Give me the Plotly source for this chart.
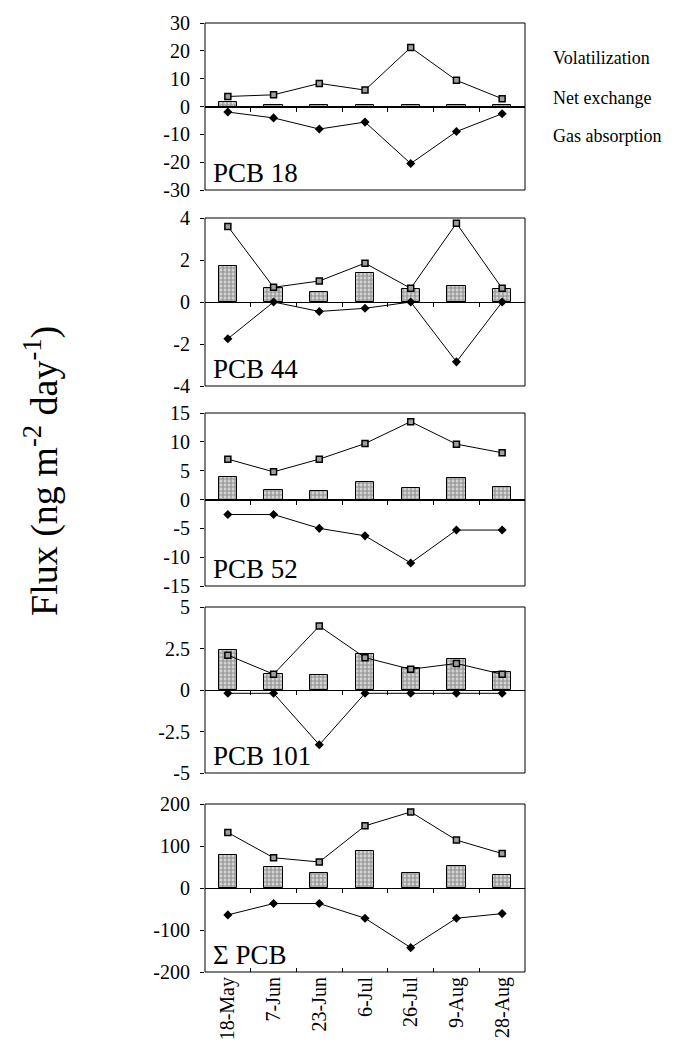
import plotly.graph_objects as go

dates = ["18-May", "7-Jun", "23-Jun", "6-Jul", "26-Jul", "9-Aug", "28-Aug"]

pcb18_vol = [3.6, 4.2, 8.3, 5.9, 21.2, 9.4, 2.8]
pcb18_net = [1.6, 0.4, 0.4, 0.5, 0.5, 0.5, 0.5]
pcb18_abs = [-2.0, -4.1, -8.1, -5.6, -20.5, -9.0, -2.6]

pcb44_vol = [3.6, 0.7, 1.0, 1.85, 0.65, 3.75, 0.65]
pcb44_net = [1.7, 0.65, 0.47, 1.4, 0.6, 0.75, 0.6]
pcb44_abs = [-1.75, 0.0, -0.45, -0.3, 0.0, -2.85, 0.0]

pcb52_vol = [7.0, 4.8, 7.0, 9.7, 13.5, 9.6, 8.1]
pcb52_net = [3.9, 1.7, 1.5, 3.0, 2.0, 3.8, 2.2]
pcb52_abs = [-2.6, -2.6, -5.0, -6.3, -11.0, -5.3, -5.3]

pcb101_vol = [2.1, 0.95, 3.85, 1.95, 1.25, 1.6, 0.95]
pcb101_net = [2.43, 0.97, 0.93, 2.14, 1.34, 1.85, 1.09]
pcb101_abs = [-0.2, -0.2, -3.3, -0.2, -0.2, -0.2, -0.2]

sum_vol = [132, 72, 62, 148, 181, 114, 82]
sum_net = [79, 49, 36, 87, 35, 53, 30]
sum_abs = [-64, -37, -37, -72, -142, -72, -61]

panel_names = ["PCB 18", "PCB 44", "PCB 52", "PCB 101", "Σ PCB"]
panel_vol = [pcb18_vol, pcb44_vol, pcb52_vol, pcb101_vol, sum_vol]
panel_net = [pcb18_net, pcb44_net, pcb52_net, pcb101_net, sum_net]
panel_abs = [pcb18_abs, pcb44_abs, pcb52_abs, pcb101_abs, sum_abs]
panel_ticks = [
    [-30, -20, -10, 0, 10, 20, 30],
    [-4, -2, 0, 2, 4],
    [-15, -10, -5, 0, 5, 10, 15],
    [-5, -2.5, 0, 2.5, 5],
    [-200, -100, 0, 100, 200],
]
legend_labels = ["Volatilization", "Net exchange", "Gas absorption"]

W, H = 676, 1042
ML, MR, MT, MB = 197, 159, 15, 78
ph = H - MT - MB

def py(pix):
    return (H - MB - pix) / ph

panel_pix = [(15, 182), (210, 378), (405, 578), (599, 765), (796, 964)]
domains = [[py(b), py(t)] for t, b in panel_pix]

FONT = "Liberation Serif"
idx = list(range(len(dates)))
bounds = [i + 0.5 for i in range(len(dates) - 1)]
xrange_ = [-0.5, len(dates) - 0.5]

fig = go.Figure()
shapes = []
annotations = []

for p in range(5):
    n = "" if p == 0 else str(p + 1)
    xa, ya = "x" + n, "y" + n
    xa_abs = "x6" if p == 4 else xa
    fig.add_trace(go.Scatter(
        x=idx, y=panel_vol[p], xaxis=xa, yaxis=ya, mode="lines+markers",
        line=dict(color="black", width=1),
        marker=dict(symbol="square", size=6, color="#a0a0a0",
                    line=dict(color="black", width=1.5)),
        showlegend=False, name=legend_labels[0]))
    fig.add_trace(go.Scatter(
        x=idx, y=panel_abs[p], xaxis=xa_abs, yaxis=ya, mode="lines+markers",
        line=dict(color="black", width=1),
        marker=dict(symbol="diamond", size=7, color="black"),
        showlegend=False, name=legend_labels[2]))
    fig.add_trace(go.Bar(
        x=idx, y=panel_net[p], xaxis=xa, yaxis=ya, width=0.4,
        marker=dict(color="#c8c8c8", line=dict(color="black", width=1),
                    pattern=dict(shape="+", fgcolor="#4a4a4a", bgcolor="#d4d4d4",
                                 size=4, solidity=0.5)),
        showlegend=False, name=legend_labels[1]))

    t = panel_ticks[p]
    d0, d1 = domains[p]
    ymax = max(t)
    ykw = dict(domain=[d0, d1], range=[-ymax, ymax], tickvals=t,
               ticktext=[("%g" % v) for v in t],
               ticks="outside", ticklen=4, tickcolor="black",
               ticklabelstandoff=6, automargin=False,
               showgrid=False, zeroline=True, zerolinecolor="black", zerolinewidth=1.2,
               showline=False, anchor=xa,
               tickfont=dict(family=FONT, size=20, color="black"))
    zero_axis = dict(domain=[0, 1], range=xrange_,
                     anchor="free", position=(d0 + d1) / 2, automargin=False,
                     showline=True, linecolor="black", linewidth=1.2,
                     tickmode="array", tickvals=bounds, ticks="outside", ticklen=4,
                     tickcolor="black", showticklabels=False, showgrid=False,
                     zeroline=False)
    if p < 4:
        xkw = zero_axis
    else:
        xkw = dict(domain=[0, 1], range=xrange_, anchor=ya,
                   showline=False, tickmode="array", tickvals=idx, ticktext=dates,
                   ticks="", tickangle=-90, showgrid=False, zeroline=False,
                   automargin=False,
                   tickfont=dict(family=FONT, size=20, color="black"),
                   minor=dict(tickmode="array", tickvals=bounds, ticks="inside",
                              ticklen=4, tickcolor="black", showgrid=False))
        fig.update_layout(xaxis6=dict(zero_axis, overlaying="x5"))
    fig.update_layout(**{"xaxis" + n: xkw, "yaxis" + n: ykw})

    shapes.append(dict(type="rect", xref=xa + " domain", yref=ya + " domain",
                       x0=0, x1=1, y0=0, y1=1,
                       line=dict(color="black", width=1), layer="above"))
    annotations.append(dict(text=panel_names[p], xref=xa + " domain", yref=ya + " domain",
                            x=0.02, y=0.0, xanchor="left", yanchor="bottom",
                            showarrow=False,
                            font=dict(family=FONT, size=27, color="black")))

for lab, yp in zip(legend_labels, [50, 90, 128]):
    annotations.append(dict(text=lab, xref="paper", yref="paper",
                            x=(543 - ML) / (W - ML - MR), y=py(yp),
                            xanchor="left", yanchor="middle", showarrow=False,
                            font=dict(family=FONT, size=18, color="black")))

annotations.append(dict(text="Flux (ng m<sup>-2</sup> day<sup>-1</sup>)",
                        xref="paper", yref="paper",
                        x=(33 - ML) / (W - ML - MR), y=py(463),
                        xanchor="center", yanchor="middle", textangle=-90,
                        showarrow=False,
                        font=dict(family=FONT, size=38, color="black")))

fig.update_layout(width=W, height=H, margin=dict(l=ML, r=MR, t=MT, b=MB, autoexpand=False),
                  plot_bgcolor="white", paper_bgcolor="white",
                  shapes=shapes, annotations=annotations, bargap=0,
                  showlegend=False)

fig.write_html("out.html")
